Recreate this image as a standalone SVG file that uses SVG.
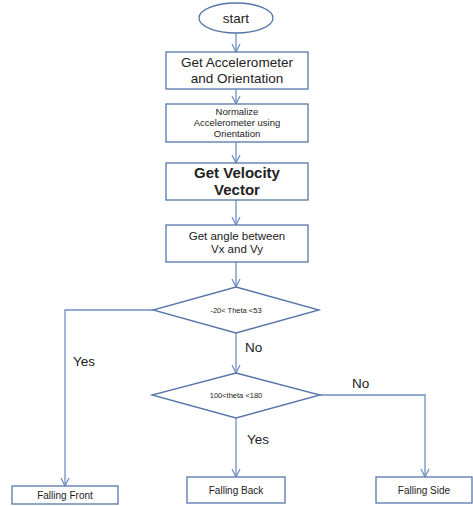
<svg xmlns="http://www.w3.org/2000/svg" width="473" height="506" viewBox="0 0 473 506">
<defs>
<marker id="arr" viewBox="0 0 10 10" refX="9" refY="5" markerWidth="10" markerHeight="10" markerUnits="userSpaceOnUse" orient="auto">
<path d="M1,1 L9,5 L1,9" fill="none" stroke="#6f8fc4" stroke-width="1.3"/>
</marker>
<style>
.n{fill:#fff;stroke:#5676aa;stroke-width:1.3}
.c{fill:none;stroke:#6f8fc4;stroke-width:1.3;marker-end:url(#arr)}
text{font-family:"Liberation Sans",Arial,sans-serif;fill:#222;text-anchor:middle}
.l{text-anchor:start;font-size:13.5px}
</style>
</defs>
<rect width="473" height="506" fill="#fff"/>
<g id="connectors">
<path class="c" d="M236,33 V52"/>
<path class="c" d="M236,89 V104"/>
<path class="c" d="M236,142 V163"/>
<path class="c" d="M236,200 V225"/>
<path class="c" d="M236,262 V287"/>
<path class="c" d="M236,333 V373"/>
<path class="c" d="M236,418 V477"/>
<path class="c" d="M153,310 H65 V486"/>
<path class="c" d="M320,395 H425 V477"/>
<text class="l" x="73" y="366">Yes</text>
<text class="l" x="245" y="352">No</text>
<text class="l" x="352" y="388">No</text>
<text class="l" x="247" y="444">Yes</text>
</g>
<g id="start">
<ellipse class="n" cx="236" cy="18" rx="37" ry="15"/>
<text x="236" y="23" font-size="13.5">start</text>
</g>
<g id="get-accel">
<rect class="n" x="166" y="52" width="142" height="37"/>
<text x="237" y="67" font-size="13.5">Get Accelerometer</text>
<text x="237" y="83" font-size="13.5">and Orientation</text>
</g>
<g id="normalize">
<rect class="n" x="166" y="104" width="142" height="38"/>
<text x="237" y="115" font-size="9.5">Normalize</text>
<text x="237" y="126" font-size="9.5">Accelerometer  using</text>
<text x="237" y="137" font-size="9.5">Orientation</text>
</g>
<g id="velocity">
<rect class="n" x="166" y="163" width="142" height="37"/>
<text x="237" y="178" font-size="15" font-weight="bold">Get Velocity</text>
<text x="237" y="195" font-size="15" font-weight="bold">Vector</text>
</g>
<g id="angle">
<rect class="n" x="166" y="225" width="142" height="37"/>
<text x="237" y="240" font-size="11.5">Get angle between</text>
<text x="237" y="253" font-size="11.5">Vx and Vy</text>
</g>
<g id="decision1">
<polygon class="n" points="236,287 319,310 236,333 153,310"/>
<text x="236" y="313" font-size="7.5">-20&lt; Theta  &lt;53</text>
</g>
<g id="decision2">
<polygon class="n" points="236,373 320,395 236,418 152,395"/>
<text x="236" y="398" font-size="7.5">100&lt;theta  &lt;180</text>
</g>
<g id="falling-front">
<rect class="n" x="12" y="486" width="106" height="18"/>
<text x="65" y="499" font-size="10">Falling  Front</text>
</g>
<g id="falling-back">
<rect class="n" x="187" y="477" width="98" height="26"/>
<text x="236" y="494" font-size="10">Falling  Back</text>
</g>
<g id="falling-side">
<rect class="n" x="376" y="477" width="96" height="26"/>
<text x="424" y="494" font-size="10">Falling  Side</text>
</g>
</svg>
